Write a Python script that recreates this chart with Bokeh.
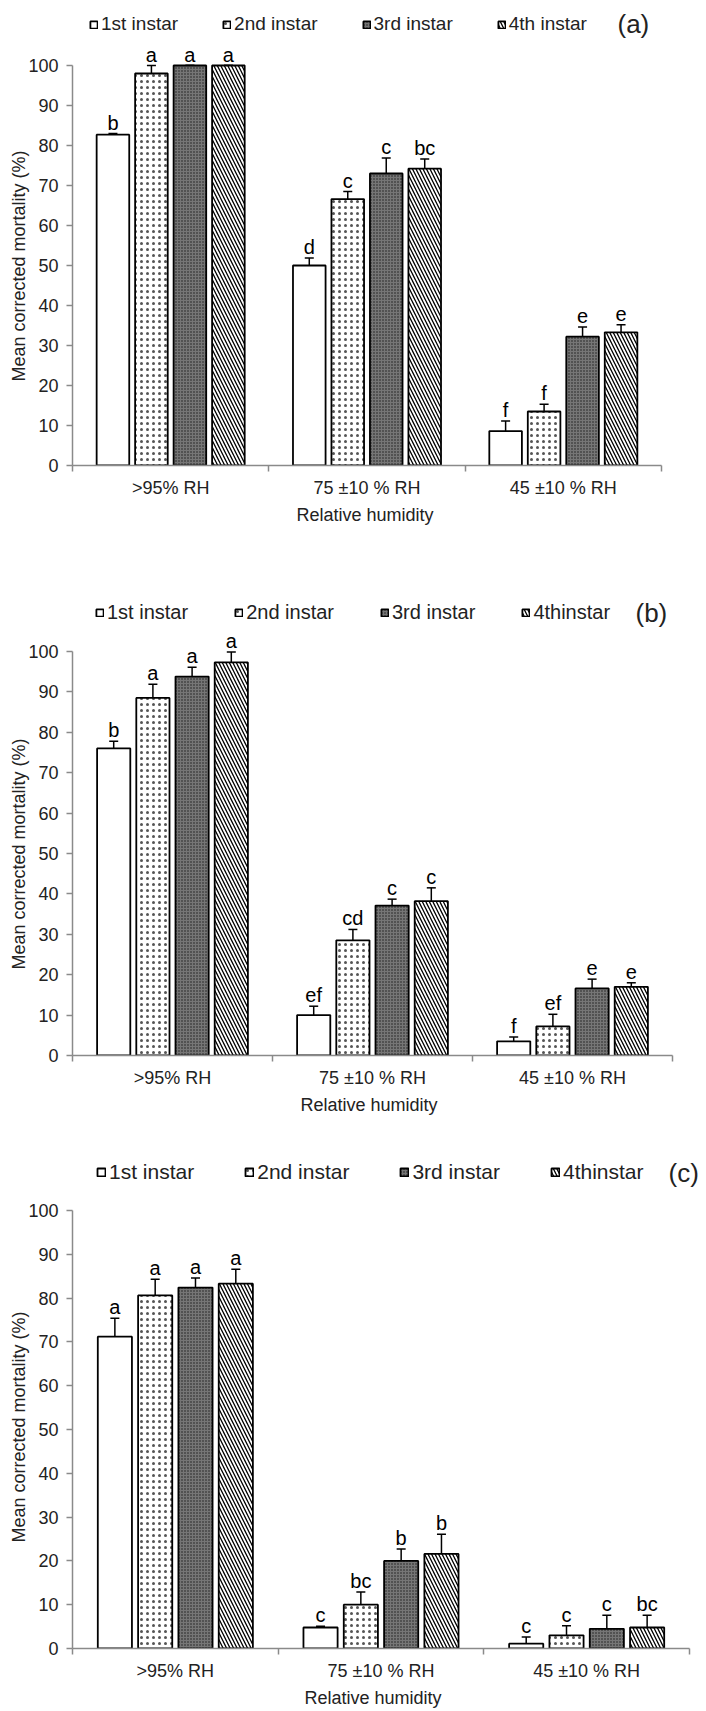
from bokeh.plotting import figure
from bokeh.models import (Range1d, FixedTicker, Whisker, TeeHead, ColumnDataSource,
                          Legend, LegendItem, Label, Title)
from bokeh.layouts import column
from bokeh.embed import file_html
from bokeh.resources import INLINE
from bokeh.core.properties import value

# ---------------- data ----------------
categories = [">95% RH", "75 \u00b110 % RH", "45 \u00b110 % RH"]
instars_a = ["1st instar", "2nd instar", "3rd instar", "4th instar"]
instars_bc = ["1st instar", "2nd instar", "3rd instar", "4thinstar"]
y_ticks = [0, 10, 20, 30, 40, 50, 60, 70, 80, 90, 100]
x_title = "Relative humidity"
y_title = "Mean corrected mortality (%)"

# panel (a)
a_1st = [82.7, 50.0, 8.6]
a_2nd = [98.0, 66.6, 13.5]
a_3rd = [100.0, 73.0, 32.2]
a_4th = [100.0, 74.2, 33.3]
a_1st_err = [0.3, 1.9, 2.5]
a_2nd_err = [2.0, 1.9, 1.8]
a_3rd_err = [0.0, 3.9, 2.4]
a_4th_err = [0.0, 2.4, 1.9]
a_1st_sig = ["b", "d", "f"]
a_2nd_sig = ["a", "c", "f"]
a_3rd_sig = ["a", "c", "e"]
a_4th_sig = ["a", "bc", "e"]

# panel (b)
b_1st = [76.0, 10.0, 3.5]
b_2nd = [88.5, 28.5, 7.2]
b_3rd = [93.8, 37.1, 16.6]
b_4th = [97.3, 38.2, 17.0]
b_1st_err = [1.8, 2.2, 1.1]
b_2nd_err = [3.4, 2.7, 3.0]
b_3rd_err = [2.3, 1.6, 2.3]
b_4th_err = [2.6, 3.3, 1.0]
b_1st_sig = ["b", "ef", "f"]
b_2nd_sig = ["a", "cd", "ef"]
b_3rd_sig = ["a", "c", "e"]
b_4th_sig = ["a", "c", "e"]

# panel (c)
c_1st = [71.2, 4.8, 1.1]
c_2nd = [80.6, 10.0, 3.0]
c_3rd = [82.4, 20.0, 4.5]
c_4th = [83.3, 21.6, 4.8]
c_1st_err = [4.2, 0.3, 1.5]
c_2nd_err = [3.7, 2.9, 2.2]
c_3rd_err = [2.2, 2.7, 3.1]
c_4th_err = [3.3, 4.5, 2.8]
c_1st_sig = ["a", "c", "c"]
c_2nd_sig = ["a", "bc", "c"]
c_3rd_sig = ["a", "b", "c"]
c_4th_sig = ["a", "b", "bc"]

# ---------------- styles ----------------
FONT = "Liberation Sans"
TXT = "#222222"
AXC = "#8a8a8a"
offsets = [-0.294, -0.098, 0.098, 0.294]
bar_w = 0.166
styles = [
    dict(fill_color="white"),
    dict(fill_color="white", hatch_pattern="dot", hatch_color="#555555", hatch_scale=6, hatch_weight=0.7),
    dict(fill_color="#767676", hatch_pattern="dot", hatch_color="#1a1a1a", hatch_scale=3, hatch_weight=1.1),
    dict(fill_color="white", hatch_pattern="left_diagonal_line", hatch_color="black", hatch_scale=7, hatch_weight=1.3),
]

FRAME_LEFT = 72
FRAME_W = 706 - FRAME_LEFT
TITLE_FS = 18


def make_panel(means, errs, sigs, labels, tag, g):
    ppu_y = g["ppu_y"]
    ymax = (g["h"] - g["top"] - g["bottom"]) / ppu_y
    xmax = FRAME_W / g["ppu_x"]
    p = figure(width=706, height=g["h"], x_range=Range1d(0, xmax), y_range=Range1d(0, ymax),
               output_backend="svg", toolbar_location=None,
               min_border_left=FRAME_LEFT, min_border_right=0,
               min_border_top=g["top"], min_border_bottom=g["bottom"])
    p.grid.visible = False
    p.outline_line_color = None
    p.background_fill_color = "white"
    p.border_fill_color = "white"

    renderers = []
    for j in range(4):
        xs = [i + 0.5 + offsets[j] for i in range(len(categories))]
        ups = [m + e for m, e in zip(means[j], errs[j])]
        src = ColumnDataSource(dict(
            x=xs, top=means[j], upper=ups,
            lower=[m - e for m, e in zip(means[j], errs[j])],
            lab_y=[u + 11.0 / ppu_y for u in ups],
            sig=sigs[j]))
        r = p.vbar(x="x", top="top", bottom=0, width=bar_w, source=src,
                   line_color="black", line_width=1.8, **styles[j])
        renderers.append(r)
        wh = Whisker(source=src, base="x", upper="upper", lower="lower", dimension="height",
                     line_color="black", line_width=1.5,
                     upper_head=TeeHead(size=9, line_width=1.5, line_color="black"),
                     lower_head=TeeHead(size=9, line_width=1.5, line_color="black"))
        p.add_layout(wh)
        p.text(x="x", y="lab_y", text="sig", source=src, text_align="center",
               text_baseline="alphabetic", text_color="black",
               text_font=value(FONT), text_font_size="20px")

    # x axis
    xa = p.xaxis[0]
    xa.ticker = FixedTicker(ticks=[i + 0.5 for i in range(len(categories))],
                            minor_ticks=list(range(len(categories) + 1)))
    xa.major_label_overrides = {i + 0.5: c for i, c in enumerate(categories)}
    xa.bounds = (0, len(categories))
    xa.major_tick_out = 0
    xa.major_tick_in = 0
    xa.minor_tick_out = 6
    xa.minor_tick_in = 0
    xa.minor_tick_line_color = AXC
    xa.minor_tick_line_width = 1.5
    xa.axis_line_color = AXC
    xa.axis_line_width = 1.5
    xa.major_label_standoff = 6
    xa.major_label_text_font = FONT
    xa.major_label_text_font_size = "18px"
    xa.major_label_text_color = TXT

    # y axis
    ya = p.yaxis[0]
    ya.ticker = FixedTicker(ticks=y_ticks, minor_ticks=[])
    ya.bounds = (0, 100)
    ya.major_tick_out = 6
    ya.major_tick_in = 0
    ya.minor_tick_out = 0
    ya.minor_tick_in = 0
    ya.major_tick_line_color = AXC
    ya.major_tick_line_width = 1.5
    ya.axis_line_color = AXC
    ya.axis_line_width = 1.5
    ya.major_label_standoff = 8
    ya.major_label_text_font = FONT
    ya.major_label_text_font_size = "18px"
    ya.major_label_text_color = TXT

    p.add_layout(Title(text=y_title, align="left", offset=g["ytitle_off"], standoff=-7,
                       text_font=FONT, text_font_size=f"{TITLE_FS}px", text_font_style="normal",
                       text_color=TXT), "left")
    p.add_layout(Title(text=x_title, align="left", offset=g["xtitle_off"], standoff=4,
                       text_font=FONT, text_font_size=f"{TITLE_FS}px", text_font_style="normal",
                       text_color=TXT), "below")

    legend = Legend(items=[LegendItem(label=labels[j], renderers=[renderers[j]]) for j in range(4)],
                    location=g["leg_loc"], orientation="horizontal",
                    glyph_width=g["glyph"], glyph_height=g["glyph"], label_standoff=3,
                    spacing=g["spacing"], padding=0, margin=0,
                    border_line_alpha=0, background_fill_alpha=0,
                    label_text_font=FONT, label_text_font_size=g["leg_fs"],
                    label_text_color=TXT, label_height=20)
    p.add_layout(legend)

    p.add_layout(Label(x=g["tag_xy"][0], y=g["tag_xy"][1], x_units="screen", y_units="screen",
                       text=tag, text_font=FONT, text_font_size="26px", text_color=TXT,
                       text_baseline="middle"))
    return p


geo_a = dict(h=545, top=5, bottom=80, ppu_y=4.0, ppu_x=(661 - FRAME_LEFT) / 3,
             leg_loc=(17, 430), glyph=9, spacing=44, leg_fs="19px", tag_xy=(545, 442),
             ytitle_off=84, xtitle_off=224)
geo_b = dict(h=585, top=45, bottom=75, ppu_y=4.04, ppu_x=(672 - FRAME_LEFT) / 3,
             leg_loc=(23, 431), glyph=9, spacing=46, leg_fs="20px", tag_xy=(563, 443),
             ytitle_off=86, xtitle_off=228)
geo_c = dict(h=581, top=20, bottom=63, ppu_y=4.38, ppu_x=(689 - FRAME_LEFT) / 3,
             leg_loc=(24, 464), glyph=10, spacing=50, leg_fs="21px", tag_xy=(596, 476),
             ytitle_off=106, xtitle_off=232)

pa = make_panel([a_1st, a_2nd, a_3rd, a_4th], [a_1st_err, a_2nd_err, a_3rd_err, a_4th_err],
                [a_1st_sig, a_2nd_sig, a_3rd_sig, a_4th_sig], instars_a, "(a)", geo_a)
pb = make_panel([b_1st, b_2nd, b_3rd, b_4th], [b_1st_err, b_2nd_err, b_3rd_err, b_4th_err],
                [b_1st_sig, b_2nd_sig, b_3rd_sig, b_4th_sig], instars_bc, "(b)", geo_b)
pc = make_panel([c_1st, c_2nd, c_3rd, c_4th], [c_1st_err, c_2nd_err, c_3rd_err, c_4th_err],
                [c_1st_sig, c_2nd_sig, c_3rd_sig, c_4th_sig], instars_bc, "(c)", geo_c)

layout = column(pa, pb, pc, spacing=0)
open("out.html", "w").write(file_html(layout, INLINE))
